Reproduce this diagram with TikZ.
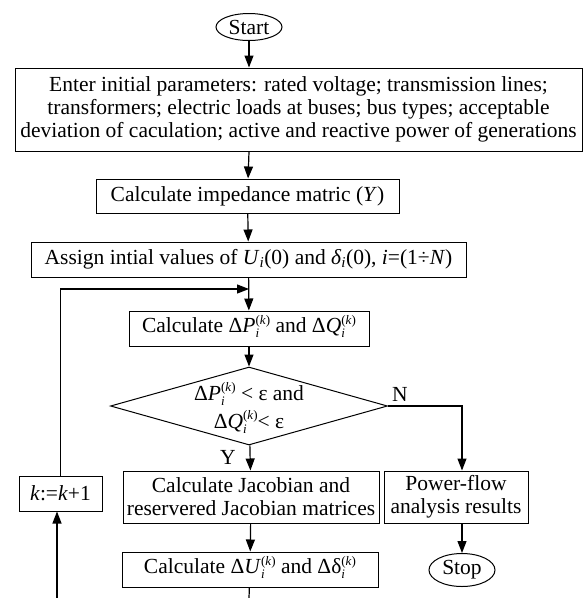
\documentclass[tikz,border=0pt]{standalone}
\usepackage{fontspec}
\setmainfont{Liberation Serif}
\usepackage{tikz}
\usetikzlibrary{shapes.geometric}
\usetikzlibrary{arrows.meta}

\newcommand{\ik}{\raisebox{-5pt}{\fontsize{13}{13.5}\selectfont
    \begin{tabular}[b]{@{}l@{}}(\textit{k})\\\textit{i}\end{tabular}}}

\begin{document}
\begin{tikzpicture}[x=1pt, y=-1pt, font=\fontsize{21.5}{23}\selectfont,
        box/.style={rectangle, draw, line width=1pt, inner sep=0pt, align=center},
        term/.style={ellipse, draw, line width=1pt, inner sep=0pt, minimum width=66pt},
        flow/.style={-{Triangle[length=12pt, width=9pt]}, line width=1.2pt}]
        \useasboundingbox (0,0) rectangle (584,598);

        % Nodes
        \node[term, minimum height=27pt] (start) at (249, 27) {Start};
        \node[box, minimum width=567pt, minimum height=83pt] (enter) at (298.5, 109.5)
            {Enter initial parameters: rated voltage; transmission lines;\\
             transformers; electric loads at buses; bus types; acceptable\\
             deviation of caculation; active and reactive power of generations};
        \node[box, minimum width=303pt, minimum height=34pt] (imp) at (247.5, 196)
            {Calculate impedance matric (\textit{Y})};
        \node[box, minimum width=435pt, minimum height=35pt] (assign) at (248.5, 259.5)
            {Assign intial values of \textit{U}\textsubscript{\textit{i}}(0) and
             \textit{δ}\textsubscript{\textit{i}}(0), \textit{i}=(1÷\textit{N})};
        \node[box, minimum width=240pt, minimum height=35pt] (dp) at (249, 328.5)
            {Calculate Δ\textit{P}\ik{} and Δ\textit{Q}\ik};
        \node[diamond, draw, line width=1pt, inner sep=0pt, aspect=3.5,
            minimum width=277pt, minimum height=78pt] (check) at (249, 406) {};
        \node[align=center, inner sep=0pt] (checktext) at (249, 410)
            {Δ\textit{P}\ik{} \textless{} ε and\\ Δ\textit{Q}\ik\textless{} ε};
        \node[box, minimum width=256pt, minimum height=52pt] (jac) at (251, 497)
            {Calculate Jacobian and\\ reservered Jacobian matrices};
        \node[box, minimum width=256pt, minimum height=35pt] (du) at (250, 569.5)
            {Calculate Δ\textit{U}\ik{} and Δδ\ik};
        \node[box, minimum width=144pt, minimum height=52pt] (power) at (456, 497)
            {Power-flow\\ analysis results};
        \node[term, minimum height=33pt] (stop) at (462, 570) {Stop};
        \node[box, minimum width=83pt, minimum height=35pt] (inc) at (60.5, 493.5)
            {\textit{k}:=\textit{k}+1};
        \node (yes) at (228, 457) {Y};
        \node (no) at (400, 394) {N};

        \coordinate (join) at (249, 289);
        \coordinate (down) at (249, 598);
        \coordinate (up) at (57, 598);

        % Arrows
        \draw[flow] (start) -- (start |- enter.north);
        \draw[flow] (start |- enter.south) -- (imp);
        \draw[flow] (imp) -- (assign);
        \draw[flow] (assign) -- (dp);
        \draw[flow] (dp) -- (check);
        \draw[flow] (check) -- (jac);
        \draw[flow] (jac) -- (du);
        \draw[flow] (check.east) -| (stop |- power.north);
        \draw[flow] (stop |- power.south) -- (stop);
        \draw[line width=1.2pt] (du) -- (down);
        \draw[flow] (up) -- (up |- inc.south);
        \draw[flow] (inc) |- (join);

\end{tikzpicture}
\end{document}
